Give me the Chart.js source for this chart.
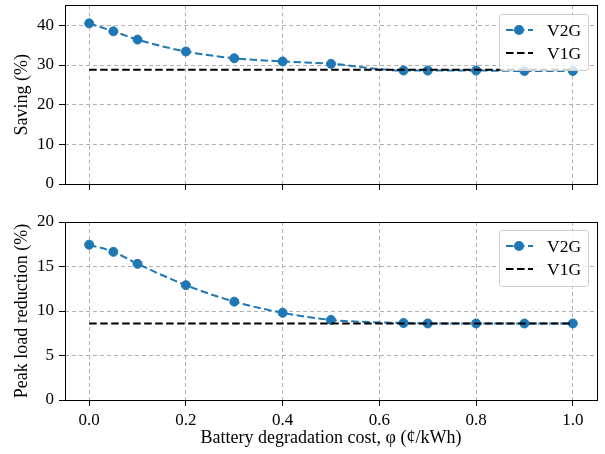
<!DOCTYPE html>
<html>
<head>
<meta charset="utf-8">
<script src="https://cdn.jsdelivr.net/npm/chart.js@4/dist/chart.umd.min.js"></script>
<style>
  html, body { margin: 0; padding: 0; background: #fff; }
  canvas { position: absolute; left: 0; }
  #top { top: 0; }
  #bottom { top: 200px; }
</style>
</head>
<body>
<canvas id="top" width="605" height="200"></canvas>
<canvas id="bottom" width="605" height="254"></canvas>
<script>
// battery degradation cost, phi (cents/kWh)
const phi = [0, 0.05, 0.1, 0.2, 0.3, 0.4, 0.5, 0.65, 0.7, 0.8, 0.9, 1.0]
const savingV2G = [40.5, 38.5, 36.4, 33.4, 31.7, 30.9, 30.3, 28.6, 28.6, 28.6, 28.5, 28.5]
const savingV1G = 28.8
const peakV2G = [17.45, 16.65, 15.3, 12.9, 11.05, 9.8, 9.0, 8.65, 8.6, 8.6, 8.6, 8.6]
const peakV1G = 8.6

const xTicks = [0, 0.2, 0.4, 0.6, 0.8, 1.0]
const savingTicks = [0, 10, 20, 30, 40]
const peakTicks = [0, 5, 10, 15, 20]

const BLUE = '#1f77b4'
const FONT = 'Liberation Serif'
Chart.defaults.font.family = FONT
Chart.defaults.font.size = 17
Chart.defaults.color = '#000'

// same snapping chart.js uses for 1px lines
const align = p => Math.round(p - 0.5) + 0.5

// matplotlib-ish frame round the axes
const framePlugin = {
  id: 'frame',
  afterDatasetsDraw(chart) {
    const { ctx, chartArea: a } = chart
    const l = align(a.left), r = align(a.right), t = align(a.top), b = align(a.bottom)
    ctx.save()
    ctx.strokeStyle = '#000'
    ctx.lineWidth = 1
    ctx.strokeRect(l, t, r - l, b - t)
    ctx.restore()
  }
}

// legend box in the upper right corner
const boxLegend = {
  id: 'boxLegend',
  afterDraw(chart) {
    const { ctx, chartArea: a } = chart
    const w = 89, h = 56
    const x = Math.round(a.right) - 9 - w, y = Math.round(a.top) + 8
    ctx.save()
    ctx.beginPath()
    ctx.roundRect(x + 0.5, y + 0.5, w, h, 3)
    ctx.fillStyle = 'rgba(255,255,255,0.8)'
    ctx.fill()
    ctx.strokeStyle = '#cccccc'
    ctx.lineWidth = 1
    ctx.stroke()

    const items = chart.data.datasets.slice().sort((p, q) => q.order - p.order)
    items.forEach((ds, i) => {
      const cy = y + 16 + i * 23
      ctx.beginPath()
      ctx.setLineDash(ds.borderDash)
      ctx.strokeStyle = ds.borderColor
      ctx.lineWidth = ds.borderWidth
      ctx.moveTo(x + 7, cy)
      ctx.lineTo(x + 34, cy)
      ctx.stroke()
      ctx.setLineDash([])
      if (ds.pointRadius > 0) {
        ctx.beginPath()
        ctx.arc(x + 20, cy, ds.pointRadius + 0.5, 0, Math.PI * 2)
        ctx.fillStyle = ds.pointBackgroundColor
        ctx.fill()
      }
      ctx.fillStyle = '#000'
      ctx.font = '17.5px "' + FONT + '"'
      ctx.textBaseline = 'middle'
      ctx.fillText(ds.label, x + 48, cy + 1)
    })
    ctx.restore()
  }
}

function makeChart(id, v2g, v1g, yMax, yTicks, yTitle, showX) {
  const ctx = document.getElementById(id).getContext('2d')
  return new Chart(ctx, {
    type: 'line',
    data: {
      datasets: [
        {
          label: 'V1G',
          data: [{ x: phi[0], y: v1g }, { x: phi[phi.length - 1], y: v1g }],
          borderColor: '#000',
          borderWidth: 2,
          borderDash: [7.5, 3.5],
          pointRadius: 0,
          order: 0
        },
        {
          label: 'V2G',
          data: phi.map((x, i) => ({ x, y: v2g[i] })),
          borderColor: BLUE,
          borderWidth: 2,
          borderDash: [7.5, 3.5],
          cubicInterpolationMode: 'monotone',
          pointRadius: 4.5,
          pointBorderWidth: 1,
          pointBackgroundColor: BLUE,
          pointBorderColor: BLUE,
          order: 1
        }
      ]
    },
    options: {
      responsive: false,
      animation: false,
      devicePixelRatio: 1,
      layout: { padding: { top: showX ? 22 : 5, right: 8, left: 0, bottom: 0 } },
      plugins: {
        legend: { display: false },
        tooltip: { enabled: false }
      },
      scales: {
        x: {
          type: 'linear',
          min: -0.05,
          max: 1.05,
          afterBuildTicks: s => { s.ticks = xTicks.map(v => ({ value: v })) },
          afterFit: s => {
            s.height = showX ? 54 : 16
            s.paddingLeft = 0
            s.paddingRight = 0
          },
          border: { display: false, dash: [4, 3] },
          grid: {
            color: '#b0b0b0',
            lineWidth: 1,
            tickLength: 6,
            tickColor: '#000',
            tickWidth: 1
          },
          ticks: {
            display: showX,
            padding: 4,
            maxRotation: 0,
            callback: v => v.toFixed(1)
          },
          title: {
            display: showX,
            text: 'Battery degradation cost, φ (¢/kWh)',
            font: { size: 18 },
            padding: { top: 0, bottom: 5 }
          }
        },
        y: {
          min: 0,
          max: yMax,
          afterBuildTicks: s => { s.ticks = yTicks.map(v => ({ value: v })) },
          afterFit: s => {
            s.width = 65
            s.paddingTop = 0
            s.paddingBottom = 0
          },
          border: { display: false, dash: [4, 3] },
          grid: {
            color: '#b0b0b0',
            lineWidth: 1,
            tickLength: 6,
            tickColor: '#000',
            tickWidth: 1
          },
          ticks: { padding: 5 },
          title: {
            display: true,
            text: yTitle,
            font: { size: 18 },
            padding: { top: 11, bottom: 0 }
          }
        }
      }
    },
    plugins: [framePlugin, boxLegend]
  })
}

makeChart('top', savingV2G, savingV1G, 45, savingTicks, 'Saving (%)', false)
makeChart('bottom', peakV2G, peakV1G, 20, peakTicks, 'Peak load reduction (%)', true)
</script>
</body>
</html>
